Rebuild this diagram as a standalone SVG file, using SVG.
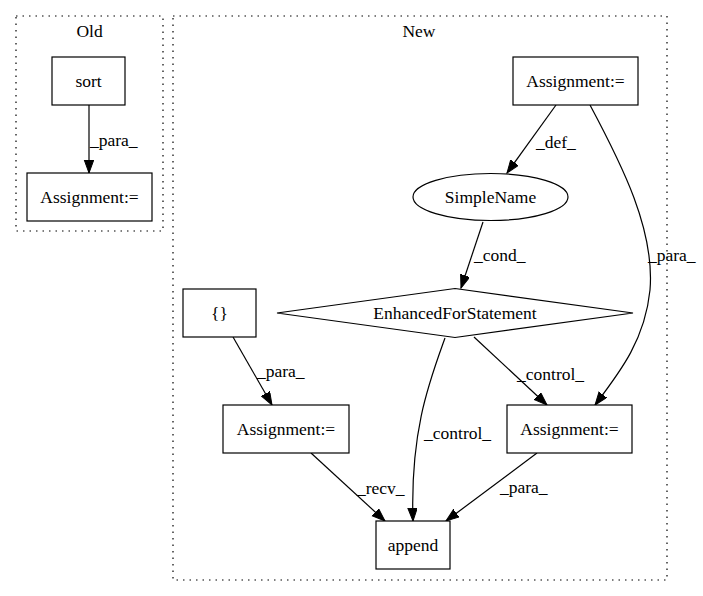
<svg xmlns="http://www.w3.org/2000/svg" width="703" height="596" viewBox="0 0 703 596">
<style>
text{font-family:"Liberation Serif","Times New Roman",serif;font-size:17.5px;fill:#000}
.c{text-anchor:middle}
.node{fill:#fff;stroke:#000;stroke-width:1.2}
.cl{fill:none;stroke:#000;stroke-width:1.2;stroke-dasharray:1.5,5}
.e{fill:none;stroke:#000;stroke-width:1.2;marker-end:url(#ah)}
</style>
<defs>
<marker id="ah" markerUnits="userSpaceOnUse" markerWidth="14" markerHeight="11" refX="13" refY="4.75" orient="auto">
<path d="M0,0 L13,4.75 L0,9.5 Z" fill="#000" stroke="#000"/>
</marker>
</defs>
<rect width="703" height="596" fill="#fff"/>
<g id="cluster_old">
<rect class="cl" x="16" y="16" width="147" height="215"/>
<text class="c" x="89.5" y="37">Old</text>
</g>
<g id="cluster_new">
<rect class="cl" x="173" y="16" width="494" height="564"/>
<text class="c" x="419" y="37">New</text>
</g>
<g id="edges">
<path class="e" d="M89,105 L89,173"/>
<text x="90" y="146">_para_</text>
<path class="e" d="M556,105 L507,173"/>
<text x="536" y="148">_def_</text>
<path class="e" d="M590,105 C622,165 655,230 650,290 C645,340 620,372 595,405"/>
<text x="648" y="261">_para_</text>
<path class="e" d="M483,222 L461,288"/>
<text x="474" y="261">_cond_</text>
<path class="e" d="M445,338 C430,380 410,430 413,521"/>
<text x="424" y="439">_control_</text>
<path class="e" d="M474,337 L547,405"/>
<text x="517" y="380">_control_</text>
<path class="e" d="M233,337 L272,405"/>
<text x="257" y="377">_para_</text>
<path class="e" d="M311,453 L385,521"/>
<text x="357" y="494">_recv_</text>
<path class="e" d="M537,453 L446,521"/>
<text x="500" y="493">_para_</text>
</g>
<g id="sort">
<rect class="node" x="52" y="57" width="73" height="48"/>
<text class="c" x="88.5" y="87">sort</text>
</g>
<g id="old_assignment">
<rect class="node" x="27" y="173" width="125" height="48"/>
<text class="c" x="89.5" y="203">Assignment:=</text>
</g>
<g id="new_assignment_top">
<rect class="node" x="513" y="57" width="125" height="48"/>
<text class="c" x="575.5" y="87">Assignment:=</text>
</g>
<g id="simplename">
<ellipse class="node" cx="490.5" cy="197" rx="77.5" ry="23.5"/>
<text class="c" x="490.5" y="203">SimpleName</text>
</g>
<g id="enhancedfor">
<polygon class="node" points="455,288.5 633,313 455,337.5 277,313"/>
<text class="c" x="455" y="319">EnhancedForStatement</text>
</g>
<g id="braces">
<rect class="node" x="183" y="289" width="73" height="48"/>
<text class="c" x="219.5" y="319">{}</text>
</g>
<g id="assignment_left">
<rect class="node" x="223" y="405" width="126" height="48"/>
<text class="c" x="286" y="435">Assignment:=</text>
</g>
<g id="assignment_right">
<rect class="node" x="507" y="405" width="125" height="48"/>
<text class="c" x="569.5" y="435">Assignment:=</text>
</g>
<g id="append">
<rect class="node" x="376" y="521" width="74" height="48"/>
<text class="c" x="413" y="551">append</text>
</g>
</svg>
